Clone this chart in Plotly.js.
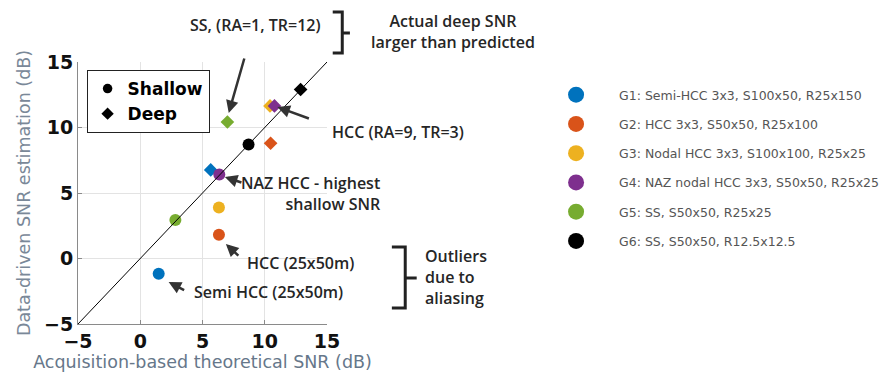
<!DOCTYPE html>
<html>
<head>
<meta charset="utf-8">
<script src="https://cdn.plot.ly/plotly-3.0.1.min.js"></script>
<style>html,body{margin:0;padding:0;background:#fff;}#chart{width:896px;height:375px;}</style>
</head>
<body>
<div id="chart"></div>
<script>
// ---- data ----
const groupNames = [
  'G1: Semi-HCC 3x3, S100x50, R25x150',
  'G2: HCC 3x3, S50x50, R25x100',
  'G3: Nodal HCC 3x3, S100x100, R25x25',
  'G4: NAZ nodal HCC 3x3, S50x50, R25x25',
  'G5: SS, S50x50, R25x25',
  'G6: SS, S50x50, R12.5x12.5'
];
const groupColors = ['#0072BD', '#D95319', '#EDB120', '#7E2F8E', '#77AC30', '#000000'];
const shallowX = [1.48, 6.32, 6.32, 6.35, 2.82, 8.70];
const shallowY = [-1.17, 1.81, 3.90, 6.42, 2.94, 8.70];
const deepX = [5.66, 10.47, 10.42, 10.78, 7.00, 12.88];
const deepY = [6.76, 8.80, 11.65, 11.65, 10.42, 12.90];
const identityX = [-5, 15];
const identityY = [-5, 15];
const depthNames = ['Shallow', 'Deep'];
const depthSymbols = ['circle', 'diamond'];
const tickVals = [-5, 0, 5, 10, 15];

// ---- layout helpers (pixel -> paper) ----
const L = 78, R = 339, T = 62, B = 324;
const px = x => (x - L) / (R - L);
const py = y => (B - y) / (B - T);
function pathFrom(segs) {
  return segs.map(seg => seg.map((p, i) => (i ? 'L' : 'M') + px(p[0]).toFixed(4) + ',' + py(p[1]).toFixed(4)).join(' ')).join(' ');
}

const FONT = 'DejaVu Sans';
const traces = [];
// data marks, one trace per group (shallow circle + deep diamond)
groupNames.forEach((g, i) => {
  traces.push({
    type: 'scatter', mode: 'markers',
    x: [shallowX[i], deepX[i]], y: [shallowY[i], deepY[i]],
    name: g, showlegend: false,
    marker: {color: groupColors[i], symbol: depthSymbols, size: [12, 10.5], opacity: 1, line: {width: 0}},
    hoverinfo: 'x+y+name'
  });
});
// legend-only entries: group colours (right legend)
groupNames.forEach((g, i) => {
  traces.push({
    type: 'scatter', mode: 'markers', x: [null], y: [null], name: g,
    legend: 'legend2', legendgroup: 'g' + i,
    marker: {color: groupColors[i], symbol: 'circle', size: 16}
  });
});
// legend-only entries: depth symbols (inner legend)
depthNames.forEach((d, i) => {
  traces.push({
    type: 'scatter', mode: 'markers', x: [null], y: [null], name: d,
    legend: 'legend', marker: {color: '#000', symbol: depthSymbols[i], size: 9.5}
  });
});
traces.push({
  type: 'scatter', mode: 'lines', x: identityX, y: identityY, showlegend: false,
  line: {color: '#000', width: 1}, hoverinfo: 'skip'
});

const annFont = {family: 'Open Sans', size: 16, weight: 600, color: '#262626'};
function txt(text, x, y, xanchor, align) {
  return {text: text, xref: 'paper', yref: 'paper', x: px(x), y: py(y), xanchor: xanchor || 'left',
    yanchor: 'middle', align: align || 'left', showarrow: false, font: annFont};
}
function arrow(hx, hy, tx, ty) {
  return {text: '', xref: 'paper', yref: 'paper', x: px(hx), y: py(hy), ax: tx - hx, ay: ty - hy,
    showarrow: true, arrowhead: 2, arrowsize: 1, arrowwidth: 2.5, arrowcolor: '#333', standoff: 0};
}

const layout = {
  width: 896, height: 375,
  margin: {l: L, r: 896 - R, t: T, b: 375 - B, pad: 0},
  paper_bgcolor: '#fff', plot_bgcolor: '#fff',
  font: {family: FONT},
  showlegend: true,
  xaxis: {
    range: [-5, 15], tickvals: tickVals, showgrid: true, gridcolor: '#e3e3e3', gridwidth: 1,
    zeroline: false, showline: true, linecolor: '#8a8a8a', linewidth: 1,
    ticks: 'inside', ticklen: 4, tickcolor: '#8a8a8a',
    tickfont: {family: FONT, size: 19, weight: 'bold', color: '#111'},
    title: {text: 'Acquisition-based theoretical SNR (dB)', font: {family: FONT, size: 17.5, color: '#66778a'}, standoff: 0}
  },
  yaxis: {
    range: [-5, 15], tickvals: tickVals, showgrid: true, gridcolor: '#e3e3e3', gridwidth: 1,
    zeroline: false, showline: true, linecolor: '#8a8a8a', linewidth: 1,
    ticks: 'inside', ticklen: 4, tickcolor: '#8a8a8a',
    tickfont: {family: FONT, size: 19, weight: 'bold', color: '#111'},
    title: {text: 'Data-driven SNR estimation (dB)', font: {family: FONT, size: 17.5, color: '#7a8898'}, standoff: 8}
  },
  legend: {
    x: px(87), y: py(70), xanchor: 'left', yanchor: 'top',
    bgcolor: '#fff', bordercolor: '#222', borderwidth: 1,
    font: {family: FONT, size: 17, weight: 'bold', color: '#000'},
    itemwidth: 30, tracegroupgap: 0
  },
  legend2: {
    x: px(555), y: py(80), xanchor: 'left', yanchor: 'top',
    bgcolor: 'rgba(0,0,0,0)', borderwidth: 0,
    font: {family: FONT, size: 12.5, color: '#555'},
    itemwidth: 76, tracegroupgap: 10
  },
  shapes: [
    {type: 'path', xref: 'paper', yref: 'paper', line: {color: '#222', width: 3},
     path: pathFrom([[[345, 12], [355, 12], [355, 53], [345, 53]], [[355, 33], [363, 33]]])},
    {type: 'path', xref: 'paper', yref: 'paper', line: {color: '#222', width: 3},
     path: pathFrom([[[407, 247], [421, 247], [421, 308], [407, 308]], [[421, 278], [433, 278]]])}
  ],
  annotations: [
    txt('SS, (RA=1, TR=12)', 264, 25, 'center', 'center'),
    txt('Actual deep SNR<br>larger than predicted', 471, 32, 'center', 'center'),
    txt('HCC (RA=9, TR=3)', 342, 132),
    txt('NAZ HCC - highest<br>shallow SNR', 398, 193, 'right', 'right'),
    txt('HCC (25x50m)', 253, 263),
    txt('Semi HCC (25x50m)', 197, 292),
    txt('Outliers<br>due to<br>aliasing', 440, 277),
    arrow(236, 113, 252, 57),
    arrow(287, 107, 320, 119),
    arrow(232, 177, 250, 183),
    arrow(233, 244, 247, 257),
    arrow(173, 282, 190, 291)
  ]
};

Plotly.newPlot('chart', traces, layout, {displayModeBar: false, responsive: false});
</script>
</body>
</html>
